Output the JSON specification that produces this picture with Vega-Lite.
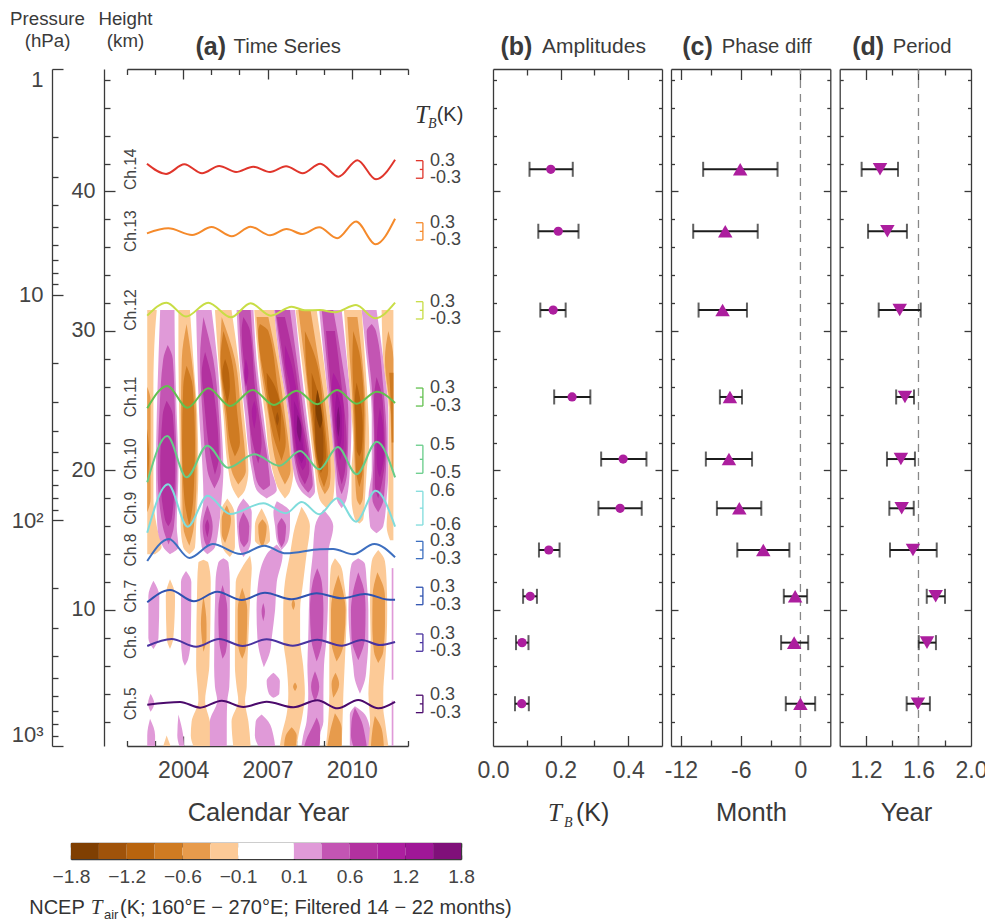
{"$schema":"https://vega.github.io/schema/vega-lite/v6.json","width":985,"height":921,"padding":0,"autosize":{"type":"none"},"background":"white",
"config":{"font":"Liberation Sans","view":{"stroke":null},"axis":{"grid":false,"domainColor":"#3a3a3a","tickColor":"#3a3a3a","domainWidth":1.3,"tickWidth":1.3,"labelColor":"#444","titleColor":"#3a3a3a","labelFontSize":23,"labelFlush":false,"labelOverlap":false,"labelBound":false,"titleFontWeight":"normal","titleAnchor":null,"title":null}},
"resolve":{"scale":{"x":"independent","y":"independent"},"axis":{"x":"independent","y":"independent"}},
"datasets":{
"pressure":[{"p":1},{"p":10},{"p":100},{"p":1000}],
"heat":[
{"g":1,"v":-1,"k":31.5,"a":2002.72,"b":2003.06},{"g":1,"v":-1,"k":30,"a":2002.72,"b":2003.00},{"g":1,"v":-1,"k":26,"a":2002.72,"b":2002.94},{"g":1,"v":-1,"k":18,"a":2002.72,"b":2002.94},{"g":1,"v":-1,"k":16,"a":2002.72,"b":2003.06},{"g":1,"v":-1,"k":14.5,"a":2002.72,"b":2003.23},{"g":1,"v":-1,"k":14,"a":2002.72,"b":2003.00},
{"g":2,"v":-2,"k":26,"a":2002.72,"b":2002.72},{"g":2,"v":-2,"k":25,"a":2002.72,"b":2002.84},{"g":2,"v":-2,"k":18,"a":2002.72,"b":2002.84},{"g":2,"v":-2,"k":17,"a":2002.72,"b":2002.72},
{"g":3,"v":-3,"k":23,"a":2002.72,"b":2002.72},{"g":3,"v":-3,"k":21,"a":2002.72,"b":2002.79},{"g":3,"v":-3,"k":19,"a":2002.72,"b":2002.72},
{"g":4,"v":1,"k":31.5,"a":2003.18,"b":2003.69},{"g":4,"v":1,"k":28,"a":2003.12,"b":2003.71},{"g":4,"v":1,"k":24,"a":2003.06,"b":2003.77},{"g":4,"v":1,"k":20,"a":2003.03,"b":2003.83},{"g":4,"v":1,"k":16,"a":2003.08,"b":2003.77},{"g":4,"v":1,"k":14.5,"a":2003.29,"b":2003.83},{"g":4,"v":1,"k":14,"a":2003.53,"b":2003.53},
{"g":5,"v":2,"k":29,"a":2003.45,"b":2003.45},{"g":5,"v":2,"k":28,"a":2003.29,"b":2003.63},{"g":5,"v":2,"k":24,"a":2003.15,"b":2003.71},{"g":5,"v":2,"k":20,"a":2003.09,"b":2003.77},{"g":5,"v":2,"k":16,"a":2003.27,"b":2003.67},{"g":5,"v":2,"k":14.7,"a":2003.48,"b":2003.48},
{"g":6,"v":3,"k":25,"a":2003.41,"b":2003.41},{"g":6,"v":3,"k":24,"a":2003.27,"b":2003.63},{"g":6,"v":3,"k":20,"a":2003.18,"b":2003.71},{"g":6,"v":3,"k":16.5,"a":2003.35,"b":2003.59},{"g":6,"v":3,"k":16,"a":2003.47,"b":2003.47},
{"g":7,"v":-1,"k":31.5,"a":2003.83,"b":2004.24},{"g":7,"v":-1,"k":28,"a":2003.83,"b":2004.36},{"g":7,"v":-1,"k":24,"a":2003.86,"b":2004.50},{"g":7,"v":-1,"k":20,"a":2003.89,"b":2004.54},{"g":7,"v":-1,"k":16,"a":2003.91,"b":2004.46},{"g":7,"v":-1,"k":14.5,"a":2004.00,"b":2004.42},{"g":7,"v":-1,"k":14,"a":2004.22,"b":2004.22},
{"g":8,"v":-2,"k":30.5,"a":2004.12,"b":2004.12},{"g":8,"v":-2,"k":28,"a":2003.95,"b":2004.30},{"g":8,"v":-2,"k":24,"a":2003.92,"b":2004.46},{"g":8,"v":-2,"k":20,"a":2003.95,"b":2004.48},{"g":8,"v":-2,"k":16,"a":2004.00,"b":2004.38},{"g":8,"v":-2,"k":14.6,"a":2004.22,"b":2004.22},
{"g":9,"v":-3,"k":27.5,"a":2004.12,"b":2004.12},{"g":9,"v":-3,"k":26,"a":2004.00,"b":2004.34},{"g":9,"v":-3,"k":22,"a":2003.96,"b":2004.42},{"g":9,"v":-3,"k":18,"a":2004.04,"b":2004.36},{"g":9,"v":-3,"k":16,"a":2004.22,"b":2004.22},
{"g":10,"v":1,"k":31.5,"a":2004.46,"b":2005.01},{"g":10,"v":1,"k":28,"a":2004.50,"b":2005.21},{"g":10,"v":1,"k":24,"a":2004.57,"b":2005.34},{"g":10,"v":1,"k":20,"a":2004.69,"b":2005.43},{"g":10,"v":1,"k":18,"a":2004.72,"b":2005.37},{"g":10,"v":1,"k":16,"a":2004.60,"b":2005.27},{"g":10,"v":1,"k":14.5,"a":2004.66,"b":2005.13},{"g":10,"v":1,"k":14,"a":2004.86,"b":2004.86},
{"g":11,"v":2,"k":31,"a":2004.72,"b":2004.72},{"g":11,"v":2,"k":28,"a":2004.60,"b":2005.07},{"g":11,"v":2,"k":24,"a":2004.69,"b":2005.27},{"g":11,"v":2,"k":20,"a":2004.86,"b":2005.34},{"g":11,"v":2,"k":18.7,"a":2005.11,"b":2005.11},
{"g":12,"v":3,"k":28.5,"a":2004.78,"b":2004.78},{"g":12,"v":3,"k":27,"a":2004.66,"b":2004.98},{"g":12,"v":3,"k":25,"a":2004.74,"b":2005.13},{"g":12,"v":3,"k":21,"a":2004.98,"b":2005.27},{"g":12,"v":3,"k":19.7,"a":2005.13,"b":2005.13},
{"g":13,"v":2,"k":17.5,"a":2004.86,"b":2004.86},{"g":13,"v":2,"k":16,"a":2004.69,"b":2005.05},{"g":13,"v":2,"k":15,"a":2004.75,"b":2004.98},{"g":13,"v":2,"k":14.5,"a":2004.86,"b":2004.86},
{"g":14,"v":3,"k":16.5,"a":2004.86,"b":2004.86},{"g":14,"v":3,"k":16,"a":2004.78,"b":2004.93},{"g":14,"v":3,"k":15.2,"a":2004.86,"b":2004.86},
{"g":15,"v":-1,"k":31.5,"a":2005.13,"b":2005.72},{"g":15,"v":-1,"k":28,"a":2005.25,"b":2005.96},{"g":15,"v":-1,"k":24,"a":2005.43,"b":2006.16},{"g":15,"v":-1,"k":20,"a":2005.61,"b":2006.32},{"g":15,"v":-1,"k":18.6,"a":2005.78,"b":2006.20},{"g":15,"v":-1,"k":18,"a":2005.96,"b":2005.96},
{"g":16,"v":-2,"k":31,"a":2005.37,"b":2005.37},{"g":16,"v":-2,"k":28,"a":2005.31,"b":2005.84},{"g":16,"v":-2,"k":24,"a":2005.49,"b":2006.06},{"g":16,"v":-2,"k":20,"a":2005.72,"b":2006.23},{"g":16,"v":-2,"k":19,"a":2005.96,"b":2005.96},
{"g":17,"v":-3,"k":30,"a":2005.43,"b":2005.43},{"g":17,"v":-3,"k":28,"a":2005.33,"b":2005.72},{"g":17,"v":-3,"k":24,"a":2005.55,"b":2005.93},{"g":17,"v":-3,"k":22,"a":2005.67,"b":2006.02},{"g":17,"v":-3,"k":21,"a":2005.84,"b":2005.84},
{"g":18,"v":-4,"k":28,"a":2005.49,"b":2005.49},{"g":18,"v":-4,"k":27,"a":2005.39,"b":2005.63},{"g":18,"v":-4,"k":26,"a":2005.45,"b":2005.66},{"g":18,"v":-4,"k":24.8,"a":2005.57,"b":2005.57},
{"g":19,"v":-1,"k":18,"a":2005.57,"b":2005.57},{"g":19,"v":-1,"k":17,"a":2005.33,"b":2005.82},{"g":19,"v":-1,"k":16,"a":2005.31,"b":2005.84},{"g":19,"v":-1,"k":14.5,"a":2005.40,"b":2005.84},{"g":19,"v":-1,"k":13.8,"a":2005.66,"b":2005.66},
{"g":20,"v":-2,"k":17.5,"a":2005.55,"b":2005.55},{"g":20,"v":-2,"k":16.5,"a":2005.37,"b":2005.70},{"g":20,"v":-2,"k":15.5,"a":2005.37,"b":2005.61},{"g":20,"v":-2,"k":14.8,"a":2005.49,"b":2005.49},
{"g":21,"v":1,"k":31.5,"a":2005.90,"b":2006.50},{"g":21,"v":1,"k":28,"a":2006.00,"b":2006.61},{"g":21,"v":1,"k":24,"a":2006.20,"b":2006.85},{"g":21,"v":1,"k":20,"a":2006.44,"b":2007.15},{"g":21,"v":1,"k":18.6,"a":2006.61,"b":2007.33},{"g":21,"v":1,"k":18,"a":2006.97,"b":2006.97},
{"g":22,"v":2,"k":31.5,"a":2005.98,"b":2006.40},{"g":22,"v":2,"k":28,"a":2006.08,"b":2006.53},{"g":22,"v":2,"k":24,"a":2006.32,"b":2006.76},{"g":22,"v":2,"k":20,"a":2006.53,"b":2007.05},{"g":22,"v":2,"k":19,"a":2006.67,"b":2007.09},{"g":22,"v":2,"k":18.6,"a":2006.85,"b":2006.85},
{"g":23,"v":3,"k":31,"a":2006.14,"b":2006.14},{"g":23,"v":3,"k":30,"a":2006.08,"b":2006.38},{"g":23,"v":3,"k":26,"a":2006.26,"b":2006.55},{"g":23,"v":3,"k":22,"a":2006.47,"b":2006.79},{"g":23,"v":3,"k":20.5,"a":2006.67,"b":2006.67},
{"g":24,"v":4,"k":28,"a":2006.23,"b":2006.23},{"g":24,"v":4,"k":27,"a":2006.17,"b":2006.32},{"g":24,"v":4,"k":26,"a":2006.23,"b":2006.23},
{"g":25,"v":4,"k":25,"a":2006.53,"b":2006.53},{"g":25,"v":4,"k":24.2,"a":2006.44,"b":2006.61},{"g":25,"v":4,"k":23,"a":2006.53,"b":2006.53},
{"g":26,"v":1,"k":18,"a":2006.14,"b":2006.14},{"g":26,"v":1,"k":17,"a":2005.90,"b":2006.44},{"g":26,"v":1,"k":15,"a":2005.96,"b":2006.41},{"g":26,"v":1,"k":14.3,"a":2006.02,"b":2006.32},{"g":26,"v":1,"k":13.8,"a":2006.14,"b":2006.14},
{"g":27,"v":2,"k":17,"a":2006.14,"b":2006.14},{"g":27,"v":2,"k":16,"a":2005.98,"b":2006.35},{"g":27,"v":2,"k":15,"a":2006.02,"b":2006.32},{"g":27,"v":2,"k":14.5,"a":2006.16,"b":2006.16},
{"g":28,"v":-1,"k":31.5,"a":2006.53,"b":2007.23},{"g":28,"v":-1,"k":28,"a":2006.67,"b":2007.42},{"g":28,"v":-1,"k":24,"a":2006.91,"b":2007.74},{"g":28,"v":-1,"k":20,"a":2007.18,"b":2007.92},{"g":28,"v":-1,"k":18.5,"a":2007.44,"b":2007.80},{"g":28,"v":-1,"k":18,"a":2007.62,"b":2007.62},
{"g":29,"v":-2,"k":31,"a":2006.61,"b":2007.03},{"g":29,"v":-2,"k":28,"a":2006.73,"b":2007.33},{"g":29,"v":-2,"k":24,"a":2007.03,"b":2007.62},{"g":29,"v":-2,"k":20,"a":2007.39,"b":2007.82},{"g":29,"v":-2,"k":19,"a":2007.62,"b":2007.62},
{"g":30,"v":-3,"k":30.5,"a":2006.73,"b":2006.73},{"g":30,"v":-3,"k":30,"a":2006.67,"b":2007.03},{"g":30,"v":-3,"k":26,"a":2006.93,"b":2007.36},{"g":30,"v":-3,"k":22,"a":2007.27,"b":2007.65},{"g":30,"v":-3,"k":20.7,"a":2007.50,"b":2007.50},
{"g":31,"v":-4,"k":27,"a":2006.97,"b":2006.97},{"g":31,"v":-4,"k":26,"a":2006.99,"b":2007.27},{"g":31,"v":-4,"k":24,"a":2007.21,"b":2007.48},{"g":31,"v":-4,"k":22,"a":2007.44,"b":2007.44},
{"g":32,"v":-5,"k":24.2,"a":2007.35,"b":2007.35},{"g":32,"v":-5,"k":23.7,"a":2007.29,"b":2007.41},{"g":32,"v":-5,"k":23.2,"a":2007.35,"b":2007.35},
{"g":33,"v":-1,"k":17.3,"a":2006.79,"b":2006.79},{"g":33,"v":-1,"k":16,"a":2006.55,"b":2007.05},{"g":33,"v":-1,"k":15,"a":2006.55,"b":2007.09},{"g":33,"v":-1,"k":14.5,"a":2006.83,"b":2006.83},
{"g":34,"v":-2,"k":16.5,"a":2006.82,"b":2006.82},{"g":34,"v":-2,"k":16,"a":2006.67,"b":2006.97},{"g":34,"v":-2,"k":15,"a":2006.71,"b":2006.91},{"g":34,"v":-2,"k":14.5,"a":2006.82,"b":2006.82},
{"g":35,"v":1,"k":31.5,"a":2007.23,"b":2007.98},{"g":35,"v":1,"k":28,"a":2007.42,"b":2008.16},{"g":35,"v":1,"k":24,"a":2007.74,"b":2008.39},{"g":35,"v":1,"k":20,"a":2007.92,"b":2008.63},{"g":35,"v":1,"k":18.5,"a":2008.21,"b":2008.69},{"g":35,"v":1,"k":18,"a":2008.51,"b":2008.51},
{"g":36,"v":2,"k":31.5,"a":2007.27,"b":2007.80},{"g":36,"v":2,"k":28,"a":2007.50,"b":2008.04},{"g":36,"v":2,"k":24,"a":2007.80,"b":2008.30},{"g":36,"v":2,"k":20,"a":2008.04,"b":2008.57},{"g":36,"v":2,"k":19,"a":2008.21,"b":2008.61},{"g":36,"v":2,"k":18.4,"a":2008.45,"b":2008.45},
{"g":37,"v":3,"k":31,"a":2007.33,"b":2007.62},{"g":37,"v":3,"k":28,"a":2007.56,"b":2007.94},{"g":37,"v":3,"k":24,"a":2007.82,"b":2008.21},{"g":37,"v":3,"k":20,"a":2008.10,"b":2008.49},{"g":37,"v":3,"k":19,"a":2008.33,"b":2008.33},
{"g":38,"v":4,"k":29,"a":2007.62,"b":2007.62},{"g":38,"v":4,"k":28,"a":2007.62,"b":2007.80},{"g":38,"v":4,"k":26,"a":2007.80,"b":2008.01},{"g":38,"v":4,"k":24,"a":2007.86,"b":2008.16},{"g":38,"v":4,"k":22,"a":2007.98,"b":2008.31},{"g":38,"v":4,"k":20.5,"a":2008.13,"b":2008.37},{"g":38,"v":4,"k":20,"a":2008.25,"b":2008.25},
{"g":39,"v":5,"k":25,"a":2007.94,"b":2007.94},{"g":39,"v":5,"k":24,"a":2007.94,"b":2008.13},{"g":39,"v":5,"k":22,"a":2008.01,"b":2008.25},{"g":39,"v":5,"k":21,"a":2008.10,"b":2008.30},{"g":39,"v":5,"k":20.5,"a":2008.21,"b":2008.21},
{"g":40,"v":6,"k":24,"a":2008.07,"b":2008.07},{"g":40,"v":6,"k":23,"a":2008.04,"b":2008.21},{"g":40,"v":6,"k":22,"a":2008.16,"b":2008.16},
{"g":41,"v":1,"k":17.8,"a":2007.33,"b":2007.33},{"g":41,"v":1,"k":17,"a":2007.21,"b":2007.80},{"g":41,"v":1,"k":16,"a":2007.27,"b":2007.80},{"g":41,"v":1,"k":15,"a":2007.33,"b":2007.74},{"g":41,"v":1,"k":14.3,"a":2007.50,"b":2007.50},
{"g":42,"v":2,"k":16.6,"a":2007.50,"b":2007.50},{"g":42,"v":2,"k":16,"a":2007.35,"b":2007.66},{"g":42,"v":2,"k":15,"a":2007.39,"b":2007.62},{"g":42,"v":2,"k":14.5,"a":2007.50,"b":2007.50},
{"g":43,"v":-1,"k":31.5,"a":2008.00,"b":2008.75},{"g":43,"v":-1,"k":28,"a":2008.21,"b":2008.99},{"g":43,"v":-1,"k":24,"a":2008.45,"b":2009.22},{"g":43,"v":-1,"k":20,"a":2008.69,"b":2009.40},{"g":43,"v":-1,"k":18,"a":2008.84,"b":2009.34},{"g":43,"v":-1,"k":17.3,"a":2009.10,"b":2009.10},
{"g":44,"v":-2,"k":31.5,"a":2008.10,"b":2008.53},{"g":44,"v":-2,"k":28,"a":2008.31,"b":2008.81},{"g":44,"v":-2,"k":24,"a":2008.53,"b":2009.10},{"g":44,"v":-2,"k":20,"a":2008.77,"b":2009.25},{"g":44,"v":-2,"k":19,"a":2008.87,"b":2009.22},{"g":44,"v":-2,"k":18.3,"a":2009.04,"b":2009.04},
{"g":45,"v":-3,"k":30,"a":2008.33,"b":2008.33},{"g":45,"v":-3,"k":28,"a":2008.36,"b":2008.72},{"g":45,"v":-3,"k":24,"a":2008.57,"b":2009.01},{"g":45,"v":-3,"k":20,"a":2008.81,"b":2009.16},{"g":45,"v":-3,"k":18.8,"a":2009.01,"b":2009.01},
{"g":46,"v":-4,"k":27,"a":2008.57,"b":2008.57},{"g":46,"v":-4,"k":25,"a":2008.59,"b":2008.87},{"g":46,"v":-4,"k":23,"a":2008.67,"b":2009.01},{"g":46,"v":-4,"k":21,"a":2008.75,"b":2009.08},{"g":46,"v":-4,"k":19.8,"a":2008.90,"b":2008.90},
{"g":47,"v":-5,"k":25.5,"a":2008.75,"b":2008.75},{"g":47,"v":-5,"k":24,"a":2008.69,"b":2008.90},{"g":47,"v":-5,"k":22,"a":2008.71,"b":2008.99},{"g":47,"v":-5,"k":21,"a":2008.77,"b":2008.99},{"g":47,"v":-5,"k":20,"a":2008.87,"b":2008.87},
{"g":48,"v":-6,"k":25.8,"a":2008.78,"b":2008.78},{"g":48,"v":-6,"k":24.5,"a":2008.71,"b":2008.90},{"g":48,"v":-6,"k":23.6,"a":2008.77,"b":2008.95},{"g":48,"v":-6,"k":23,"a":2008.87,"b":2008.87},
{"g":49,"v":1,"k":31.5,"a":2008.84,"b":2009.64},{"g":49,"v":1,"k":28,"a":2009.01,"b":2009.82},{"g":49,"v":1,"k":24,"a":2009.22,"b":2009.99},{"g":49,"v":1,"k":20,"a":2009.40,"b":2009.93},{"g":49,"v":1,"k":18,"a":2009.46,"b":2009.82},{"g":49,"v":1,"k":17.3,"a":2009.64,"b":2009.64},
{"g":50,"v":2,"k":31.5,"a":2008.93,"b":2009.34},{"g":50,"v":2,"k":28,"a":2009.10,"b":2009.64},{"g":50,"v":2,"k":24,"a":2009.28,"b":2009.88},{"g":50,"v":2,"k":20,"a":2009.46,"b":2009.84},{"g":50,"v":2,"k":19,"a":2009.52,"b":2009.76},{"g":50,"v":2,"k":18.3,"a":2009.64,"b":2009.64},
{"g":51,"v":3,"k":30,"a":2009.08,"b":2009.40},{"g":51,"v":3,"k":26,"a":2009.25,"b":2009.64},{"g":51,"v":3,"k":22,"a":2009.40,"b":2009.82},{"g":51,"v":3,"k":20,"a":2009.52,"b":2009.76},{"g":51,"v":3,"k":19,"a":2009.64,"b":2009.64},
{"g":52,"v":4,"k":27,"a":2009.34,"b":2009.34},{"g":52,"v":4,"k":26,"a":2009.28,"b":2009.58},{"g":52,"v":4,"k":24,"a":2009.37,"b":2009.72},{"g":52,"v":4,"k":22,"a":2009.46,"b":2009.72},{"g":52,"v":4,"k":20.7,"a":2009.58,"b":2009.58},
{"g":53,"v":5,"k":25.7,"a":2009.46,"b":2009.46},{"g":53,"v":5,"k":24,"a":2009.40,"b":2009.64},{"g":53,"v":5,"k":22.5,"a":2009.46,"b":2009.64},{"g":53,"v":5,"k":21.5,"a":2009.55,"b":2009.55},
{"g":54,"v":6,"k":24.6,"a":2009.52,"b":2009.52},{"g":54,"v":6,"k":23.5,"a":2009.46,"b":2009.58},{"g":54,"v":6,"k":22.4,"a":2009.52,"b":2009.52},
{"g":55,"v":-1,"k":31.5,"a":2009.72,"b":2010.35},{"g":55,"v":-1,"k":28,"a":2009.84,"b":2010.47},{"g":55,"v":-1,"k":24,"a":2009.99,"b":2010.59},{"g":55,"v":-1,"k":22,"a":2010.05,"b":2010.62},{"g":55,"v":-1,"k":20,"a":2009.99,"b":2010.53},{"g":55,"v":-1,"k":18,"a":2009.99,"b":2010.47},{"g":55,"v":-1,"k":16.5,"a":2010.11,"b":2010.41},{"g":55,"v":-1,"k":16.2,"a":2010.27,"b":2010.27},
{"g":56,"v":-2,"k":31,"a":2009.84,"b":2010.20},{"g":56,"v":-2,"k":28,"a":2009.93,"b":2010.37},{"g":56,"v":-2,"k":24,"a":2010.05,"b":2010.49},{"g":56,"v":-2,"k":20,"a":2010.11,"b":2010.44},{"g":56,"v":-2,"k":18,"a":2010.17,"b":2010.39},{"g":56,"v":-2,"k":17.5,"a":2010.29,"b":2010.29},
{"g":57,"v":-3,"k":30,"a":2010.05,"b":2010.05},{"g":57,"v":-3,"k":28,"a":2010.02,"b":2010.31},{"g":57,"v":-3,"k":24,"a":2010.09,"b":2010.44},{"g":57,"v":-3,"k":20,"a":2010.15,"b":2010.39},{"g":57,"v":-3,"k":18.8,"a":2010.27,"b":2010.27},
{"g":58,"v":-4,"k":26.3,"a":2010.17,"b":2010.17},{"g":58,"v":-4,"k":25,"a":2010.11,"b":2010.31},{"g":58,"v":-4,"k":23,"a":2010.15,"b":2010.39},{"g":58,"v":-4,"k":21.5,"a":2010.17,"b":2010.35},{"g":58,"v":-4,"k":21,"a":2010.27,"b":2010.27},
{"g":59,"v":1,"k":31.5,"a":2010.35,"b":2010.88},{"g":59,"v":1,"k":28,"a":2010.53,"b":2011.12},{"g":59,"v":1,"k":24,"a":2010.71,"b":2011.30},{"g":59,"v":1,"k":20,"a":2010.71,"b":2011.30},{"g":59,"v":1,"k":18,"a":2010.59,"b":2011.24},{"g":59,"v":1,"k":16,"a":2010.65,"b":2011.12},{"g":59,"v":1,"k":15.5,"a":2010.88,"b":2010.88},
{"g":60,"v":2,"k":30.5,"a":2010.71,"b":2010.71},{"g":60,"v":2,"k":30,"a":2010.53,"b":2010.86},{"g":60,"v":2,"k":26,"a":2010.71,"b":2011.12},{"g":60,"v":2,"k":22,"a":2010.79,"b":2011.24},{"g":60,"v":2,"k":18,"a":2010.73,"b":2011.14},{"g":60,"v":2,"k":17,"a":2010.94,"b":2010.94},
{"g":61,"v":3,"k":26.7,"a":2010.88,"b":2010.88},{"g":61,"v":3,"k":25,"a":2010.79,"b":2011.10},{"g":61,"v":3,"k":21,"a":2010.82,"b":2011.18},{"g":61,"v":3,"k":19,"a":2010.82,"b":2011.06},{"g":61,"v":3,"k":18,"a":2010.94,"b":2010.94},
{"g":62,"v":4,"k":24.5,"a":2011.00,"b":2011.00},{"g":62,"v":4,"k":23,"a":2010.91,"b":2011.12},{"g":62,"v":4,"k":21,"a":2010.88,"b":2011.14},{"g":62,"v":4,"k":20,"a":2010.92,"b":2011.06},{"g":62,"v":4,"k":19.5,"a":2011.00,"b":2011.00},
{"g":63,"v":-1,"k":31.5,"a":2011.06,"b":2011.48},{"g":63,"v":-1,"k":28,"a":2011.12,"b":2011.48},{"g":63,"v":-1,"k":24,"a":2011.32,"b":2011.48},{"g":63,"v":-1,"k":18,"a":2011.30,"b":2011.48},{"g":63,"v":-1,"k":16,"a":2011.24,"b":2011.48},{"g":63,"v":-1,"k":15,"a":2011.36,"b":2011.48},
{"g":64,"v":-2,"k":30,"a":2011.30,"b":2011.30},{"g":64,"v":-2,"k":28,"a":2011.18,"b":2011.48},{"g":64,"v":-2,"k":24,"a":2011.38,"b":2011.48},{"g":64,"v":-2,"k":20,"a":2011.42,"b":2011.48},
{"g":65,"v":-3,"k":27,"a":2011.33,"b":2011.48},{"g":65,"v":-3,"k":26,"a":2011.36,"b":2011.48},{"g":65,"v":-3,"k":22,"a":2011.42,"b":2011.48},
{"g":66,"v":1,"k":12.1,"a":2002.94,"b":2002.94},{"g":66,"v":1,"k":11,"a":2002.76,"b":2003.15},{"g":66,"v":1,"k":8,"a":2002.76,"b":2003.12},{"g":66,"v":1,"k":7.2,"a":2002.94,"b":2002.94},
{"g":67,"v":-1,"k":12.2,"a":2003.53,"b":2003.53},{"g":67,"v":-1,"k":11,"a":2003.38,"b":2003.71},{"g":67,"v":-1,"k":8,"a":2003.41,"b":2003.65},{"g":67,"v":-1,"k":7.2,"a":2003.53,"b":2003.53},
{"g":68,"v":1,"k":12.8,"a":2004.10,"b":2004.10},{"g":68,"v":1,"k":12,"a":2003.92,"b":2004.29},{"g":68,"v":1,"k":8,"a":2003.92,"b":2004.27},{"g":68,"v":1,"k":6.5,"a":2003.97,"b":2004.18},{"g":68,"v":1,"k":6,"a":2004.06,"b":2004.06},
{"g":69,"v":-1,"k":13.6,"a":2004.72,"b":2004.72},{"g":69,"v":-1,"k":13.4,"a":2004.54,"b":2004.89},{"g":69,"v":-1,"k":12,"a":2004.50,"b":2004.98},{"g":69,"v":-1,"k":6,"a":2004.46,"b":2004.93},{"g":69,"v":-1,"k":4.8,"a":2004.50,"b":2004.86},{"g":69,"v":-1,"k":3.5,"a":2004.54,"b":2004.78},{"g":69,"v":-1,"k":2,"a":2004.30,"b":2004.95},{"g":69,"v":-1,"k":1,"a":2004.27,"b":2005.01},{"g":69,"v":-1,"k":0.25,"a":2004.36,"b":2004.95},
{"g":70,"v":-2,"k":11,"a":2004.72,"b":2004.72},{"g":70,"v":-2,"k":9,"a":2004.63,"b":2004.83},{"g":70,"v":-2,"k":8,"a":2004.66,"b":2004.83},{"g":70,"v":-2,"k":7,"a":2004.72,"b":2004.72},
{"g":71,"v":1,"k":13.7,"a":2005.43,"b":2005.43},{"g":71,"v":1,"k":13.4,"a":2005.25,"b":2005.61},{"g":71,"v":1,"k":12,"a":2005.15,"b":2005.66},{"g":71,"v":1,"k":6,"a":2005.10,"b":2005.66},{"g":71,"v":1,"k":4.5,"a":2005.13,"b":2005.64},{"g":71,"v":1,"k":3.5,"a":2005.21,"b":2005.57},{"g":71,"v":1,"k":2,"a":2004.95,"b":2005.55},{"g":71,"v":1,"k":0.25,"a":2004.95,"b":2005.55},
{"g":72,"v":2,"k":11.8,"a":2005.40,"b":2005.40},{"g":72,"v":2,"k":10,"a":2005.25,"b":2005.57},{"g":72,"v":2,"k":8,"a":2005.27,"b":2005.57},{"g":72,"v":2,"k":7,"a":2005.34,"b":2005.52},{"g":72,"v":2,"k":6.5,"a":2005.40,"b":2005.40},
{"g":73,"v":-1,"k":13.9,"a":2006.38,"b":2006.38},{"g":73,"v":-1,"k":13,"a":2006.08,"b":2006.44},{"g":73,"v":-1,"k":12,"a":2005.87,"b":2006.41},{"g":73,"v":-1,"k":8,"a":2005.84,"b":2006.32},{"g":73,"v":-1,"k":6,"a":2005.84,"b":2006.28},{"g":73,"v":-1,"k":4.5,"a":2005.90,"b":2006.26},{"g":73,"v":-1,"k":3.5,"a":2005.96,"b":2006.20},{"g":73,"v":-1,"k":2,"a":2005.72,"b":2006.32},{"g":73,"v":-1,"k":0.25,"a":2005.78,"b":2006.40},
{"g":74,"v":-2,"k":11.6,"a":2006.10,"b":2006.10},{"g":74,"v":-2,"k":10,"a":2005.94,"b":2006.28},{"g":74,"v":-2,"k":8,"a":2005.94,"b":2006.26},{"g":74,"v":-2,"k":7,"a":2006.00,"b":2006.20},{"g":74,"v":-2,"k":6.5,"a":2006.10,"b":2006.10},
{"g":75,"v":1,"k":14.7,"a":2007.33,"b":2007.33},{"g":75,"v":1,"k":14,"a":2006.97,"b":2007.54},{"g":75,"v":1,"k":12,"a":2006.67,"b":2007.33},{"g":75,"v":1,"k":10,"a":2006.61,"b":2007.27},{"g":75,"v":1,"k":8,"a":2006.64,"b":2007.15},{"g":75,"v":1,"k":7,"a":2006.71,"b":2007.09},{"g":75,"v":1,"k":5.9,"a":2006.87,"b":2006.87},
{"g":76,"v":2,"k":10.5,"a":2006.85,"b":2006.85},{"g":76,"v":2,"k":9.9,"a":2006.79,"b":2006.91},{"g":76,"v":2,"k":9.2,"a":2006.85,"b":2006.85},
{"g":77,"v":1,"k":5.5,"a":2007.21,"b":2007.21},{"g":77,"v":1,"k":4.9,"a":2006.97,"b":2007.44},{"g":77,"v":1,"k":4,"a":2007.05,"b":2007.42},{"g":77,"v":1,"k":3.7,"a":2007.21,"b":2007.21},
{"g":78,"v":1,"k":2.5,"a":2006.79,"b":2006.79},{"g":78,"v":1,"k":2,"a":2006.58,"b":2007.03},{"g":78,"v":1,"k":1,"a":2006.55,"b":2007.21},{"g":78,"v":1,"k":0.25,"a":2006.67,"b":2007.27},
{"g":79,"v":-1,"k":17.4,"a":2008.21,"b":2008.21},{"g":79,"v":-1,"k":16,"a":2007.98,"b":2008.51},{"g":79,"v":-1,"k":14,"a":2007.80,"b":2008.39},{"g":79,"v":-1,"k":12,"a":2007.62,"b":2008.27},{"g":79,"v":-1,"k":10,"a":2007.56,"b":2008.16},{"g":79,"v":-1,"k":8,"a":2007.56,"b":2008.16},{"g":79,"v":-1,"k":6,"a":2007.68,"b":2008.27},{"g":79,"v":-1,"k":4,"a":2007.74,"b":2008.33},{"g":79,"v":-1,"k":2.5,"a":2007.68,"b":2008.25},{"g":79,"v":-1,"k":1,"a":2007.50,"b":2008.10},{"g":79,"v":-1,"k":0.25,"a":2007.44,"b":2008.04},
{"g":80,"v":-2,"k":4.8,"a":2007.98,"b":2007.98},{"g":80,"v":-2,"k":4.5,"a":2007.91,"b":2008.05},{"g":80,"v":-2,"k":4.2,"a":2007.98,"b":2007.98},
{"g":81,"v":-2,"k":10.8,"a":2007.92,"b":2007.92},{"g":81,"v":-2,"k":10.4,"a":2007.86,"b":2007.98},{"g":81,"v":-2,"k":10,"a":2007.92,"b":2007.92},
{"g":82,"v":-2,"k":1.6,"a":2007.86,"b":2007.86},{"g":82,"v":-2,"k":1,"a":2007.65,"b":2008.04},{"g":82,"v":-2,"k":0.25,"a":2007.59,"b":2008.01},
{"g":83,"v":1,"k":17.2,"a":2008.99,"b":2008.99},{"g":83,"v":1,"k":16,"a":2008.69,"b":2009.34},{"g":83,"v":1,"k":14,"a":2008.61,"b":2009.16},{"g":83,"v":1,"k":12,"a":2008.51,"b":2009.16},{"g":83,"v":1,"k":8,"a":2008.45,"b":2009.10},{"g":83,"v":1,"k":6,"a":2008.42,"b":2009.01},{"g":83,"v":1,"k":4,"a":2008.45,"b":2008.99},{"g":83,"v":1,"k":2,"a":2008.39,"b":2008.99},{"g":83,"v":1,"k":1,"a":2008.27,"b":2008.87},{"g":83,"v":1,"k":0.25,"a":2008.21,"b":2008.87},
{"g":84,"v":2,"k":13,"a":2008.77,"b":2008.77},{"g":84,"v":2,"k":12,"a":2008.61,"b":2008.93},{"g":84,"v":2,"k":10,"a":2008.51,"b":2008.99},{"g":84,"v":2,"k":8,"a":2008.55,"b":2008.96},{"g":84,"v":2,"k":7,"a":2008.65,"b":2008.87},{"g":84,"v":2,"k":6.3,"a":2008.75,"b":2008.75},
{"g":85,"v":2,"k":5.6,"a":2008.69,"b":2008.69},{"g":85,"v":2,"k":4.5,"a":2008.55,"b":2008.84},{"g":85,"v":2,"k":3.4,"a":2008.69,"b":2008.69},
{"g":86,"v":2,"k":2.3,"a":2008.75,"b":2008.75},{"g":86,"v":2,"k":1.5,"a":2008.57,"b":2008.87},{"g":86,"v":2,"k":0.75,"a":2008.39,"b":2008.87},{"g":86,"v":2,"k":0.25,"a":2008.31,"b":2008.84},
{"g":87,"v":-1,"k":13.7,"a":2009.40,"b":2009.40},{"g":87,"v":-1,"k":13,"a":2009.25,"b":2009.64},{"g":87,"v":-1,"k":12,"a":2009.22,"b":2009.72},{"g":87,"v":-1,"k":10,"a":2009.20,"b":2009.82},{"g":87,"v":-1,"k":8,"a":2009.20,"b":2009.79},{"g":87,"v":-1,"k":4,"a":2009.20,"b":2009.70},{"g":87,"v":-1,"k":2,"a":2009.16,"b":2009.67},{"g":87,"v":-1,"k":0.25,"a":2009.08,"b":2009.64},
{"g":88,"v":-2,"k":12.5,"a":2009.52,"b":2009.52},{"g":88,"v":-2,"k":11,"a":2009.31,"b":2009.72},{"g":88,"v":-2,"k":10,"a":2009.26,"b":2009.78},{"g":88,"v":-2,"k":8,"a":2009.26,"b":2009.73},{"g":88,"v":-2,"k":7,"a":2009.34,"b":2009.64},{"g":88,"v":-2,"k":6.3,"a":2009.46,"b":2009.46},
{"g":89,"v":-2,"k":5.5,"a":2009.42,"b":2009.42},{"g":89,"v":-2,"k":4.7,"a":2009.28,"b":2009.55},{"g":89,"v":-2,"k":3.7,"a":2009.34,"b":2009.34},
{"g":90,"v":-2,"k":2.6,"a":2009.40,"b":2009.40},{"g":90,"v":-2,"k":1.5,"a":2009.25,"b":2009.64},{"g":90,"v":-2,"k":0.25,"a":2009.13,"b":2009.64},
{"g":91,"v":1,"k":13.7,"a":2010.23,"b":2010.23},{"g":91,"v":1,"k":13.3,"a":2009.99,"b":2010.47},{"g":91,"v":1,"k":12,"a":2009.91,"b":2010.53},{"g":91,"v":1,"k":10,"a":2009.88,"b":2010.59},{"g":91,"v":1,"k":8,"a":2009.93,"b":2010.59},{"g":91,"v":1,"k":6,"a":2010.05,"b":2010.53},{"g":91,"v":1,"k":5,"a":2010.11,"b":2010.47},{"g":91,"v":1,"k":4,"a":2010.29,"b":2010.29},
{"g":92,"v":1,"k":3.1,"a":2010.11,"b":2010.11},{"g":92,"v":1,"k":2.5,"a":2009.93,"b":2010.47},{"g":92,"v":1,"k":1,"a":2009.93,"b":2010.71},{"g":92,"v":1,"k":0.25,"a":2009.93,"b":2010.82},
{"g":93,"v":2,"k":12.7,"a":2010.23,"b":2010.23},{"g":93,"v":2,"k":11,"a":2010.02,"b":2010.47},{"g":93,"v":2,"k":10,"a":2009.97,"b":2010.49},{"g":93,"v":2,"k":8,"a":2009.99,"b":2010.47},{"g":93,"v":2,"k":7,"a":2010.11,"b":2010.35},{"g":93,"v":2,"k":6.4,"a":2010.23,"b":2010.23},
{"g":94,"v":2,"k":3,"a":2010.11,"b":2010.11},{"g":94,"v":2,"k":2,"a":2009.99,"b":2010.35},{"g":94,"v":2,"k":1,"a":2009.97,"b":2010.47},{"g":94,"v":2,"k":0.25,"a":2010.05,"b":2010.53},
{"g":95,"v":-1,"k":14.3,"a":2010.94,"b":2010.94},{"g":95,"v":-1,"k":13.5,"a":2010.71,"b":2011.18},{"g":95,"v":-1,"k":12,"a":2010.65,"b":2011.24},{"g":95,"v":-1,"k":10,"a":2010.65,"b":2011.26},{"g":95,"v":-1,"k":8,"a":2010.67,"b":2011.24},{"g":95,"v":-1,"k":6,"a":2010.65,"b":2011.18},{"g":95,"v":-1,"k":4,"a":2010.59,"b":2011.12},{"g":95,"v":-1,"k":3,"a":2010.62,"b":2011.12},{"g":95,"v":-1,"k":2,"a":2010.65,"b":2011.18},{"g":95,"v":-1,"k":0.25,"a":2010.59,"b":2011.30},
{"g":96,"v":-2,"k":12.7,"a":2010.91,"b":2010.91},{"g":96,"v":-2,"k":11,"a":2010.74,"b":2011.18},{"g":96,"v":-2,"k":9,"a":2010.73,"b":2011.18},{"g":96,"v":-2,"k":7,"a":2010.79,"b":2011.12},{"g":96,"v":-2,"k":6.2,"a":2010.94,"b":2010.94},
{"g":97,"v":-2,"k":2.4,"a":2010.82,"b":2010.82},{"g":97,"v":-2,"k":1.5,"a":2010.74,"b":2011.06},{"g":97,"v":-2,"k":0.25,"a":2010.68,"b":2011.14},
{"g":98,"v":1,"k":13,"a":2011.42,"b":2011.48},{"g":98,"v":1,"k":5,"a":2011.42,"b":2011.48},
{"g":99,"v":1,"k":3.5,"a":2011.42,"b":2011.48},{"g":99,"v":1,"k":0.25,"a":2011.42,"b":2011.48},
{"g":100,"v":1,"k":2.2,"a":2002.82,"b":2002.82},{"g":100,"v":1,"k":1,"a":2002.72,"b":2003.00},{"g":100,"v":1,"k":0.25,"a":2002.72,"b":2003.00},
{"g":101,"v":-1,"k":1,"a":2003.41,"b":2003.41},{"g":101,"v":-1,"k":0.25,"a":2003.29,"b":2003.55},
{"g":102,"v":1,"k":2.5,"a":2003.83,"b":2003.83},{"g":102,"v":1,"k":1,"a":2003.79,"b":2004.00},{"g":102,"v":1,"k":0.25,"a":2003.86,"b":2004.03},
{"g":103,"v":1,"k":4,"a":2002.84,"b":2002.84},{"g":103,"v":1,"k":3.3,"a":2002.75,"b":2002.97},{"g":103,"v":1,"k":2.7,"a":2002.84,"b":2002.84}
],
"lines":[
{"ch":"Ch.14","t":2002.71,"km":41.99},{"ch":"Ch.14","t":2003.39,"km":41.26},{"ch":"Ch.14","t":2004.04,"km":41.95},{"ch":"Ch.14","t":2004.67,"km":41.31},{"ch":"Ch.14","t":2005.28,"km":41.83},{"ch":"Ch.14","t":2005.88,"km":41.40},{"ch":"Ch.14","t":2006.49,"km":41.78},{"ch":"Ch.14","t":2007.09,"km":41.40},{"ch":"Ch.14","t":2007.66,"km":41.81},{"ch":"Ch.14","t":2008.25,"km":41.31},{"ch":"Ch.14","t":2008.88,"km":41.99},{"ch":"Ch.14","t":2009.53,"km":41.06},{"ch":"Ch.14","t":2010.20,"km":42.24},{"ch":"Ch.14","t":2010.86,"km":40.87},{"ch":"Ch.14","t":2011.54,"km":42.28},
{"ch":"Ch.13","t":2002.71,"km":37.0},{"ch":"Ch.13","t":2003.47,"km":37.36},{"ch":"Ch.13","t":2004.32,"km":36.88},{"ch":"Ch.13","t":2005.01,"km":37.45},{"ch":"Ch.13","t":2005.73,"km":36.79},{"ch":"Ch.13","t":2006.40,"km":37.48},{"ch":"Ch.13","t":2007.09,"km":36.86},{"ch":"Ch.13","t":2007.68,"km":37.31},{"ch":"Ch.13","t":2008.24,"km":36.95},{"ch":"Ch.13","t":2008.84,"km":37.43},{"ch":"Ch.13","t":2009.48,"km":36.65},{"ch":"Ch.13","t":2010.15,"km":37.84},{"ch":"Ch.13","t":2010.85,"km":36.22},{"ch":"Ch.13","t":2011.54,"km":38.05},
{"ch":"Ch.12","t":2002.72,"km":31.1},{"ch":"Ch.12","t":2003.41,"km":32.03},{"ch":"Ch.12","t":2004.10,"km":31.03},{"ch":"Ch.12","t":2004.89,"km":32.03},{"ch":"Ch.12","t":2005.70,"km":30.98},{"ch":"Ch.12","t":2006.40,"km":31.99},{"ch":"Ch.12","t":2007.12,"km":31.1},{"ch":"Ch.12","t":2007.86,"km":31.74},{"ch":"Ch.12","t":2008.33,"km":31.48},{"ch":"Ch.12","t":2008.87,"km":31.5},{"ch":"Ch.12","t":2009.40,"km":31.34},{"ch":"Ch.12","t":2010.15,"km":31.86},{"ch":"Ch.12","t":2010.83,"km":30.91},{"ch":"Ch.12","t":2011.54,"km":32.03},
{"ch":"Ch.11","t":2002.72,"km":24.46},{"ch":"Ch.11","t":2003.43,"km":26.06},{"ch":"Ch.11","t":2004.15,"km":24.5},{"ch":"Ch.11","t":2004.89,"km":25.89},{"ch":"Ch.11","t":2005.67,"km":24.62},{"ch":"Ch.11","t":2006.47,"km":25.77},{"ch":"Ch.11","t":2007.23,"km":24.7},{"ch":"Ch.11","t":2008.04,"km":25.72},{"ch":"Ch.11","t":2008.77,"km":24.75},{"ch":"Ch.11","t":2009.48,"km":25.77},{"ch":"Ch.11","t":2010.17,"km":24.79},{"ch":"Ch.11","t":2010.89,"km":25.65},{"ch":"Ch.11","t":2011.54,"km":24.84},
{"ch":"Ch.10","t":2002.72,"km":19.15},{"ch":"Ch.10","t":2003.43,"km":22.47},{"ch":"Ch.10","t":2004.12,"km":19.51},{"ch":"Ch.10","t":2004.86,"km":21.78},{"ch":"Ch.10","t":2005.60,"km":20.2},{"ch":"Ch.10","t":2006.53,"km":21.16},{"ch":"Ch.10","t":2007.42,"km":20.34},{"ch":"Ch.10","t":2008.16,"km":21.4},{"ch":"Ch.10","t":2008.84,"km":20.09},{"ch":"Ch.10","t":2009.50,"km":21.68},{"ch":"Ch.10","t":2010.17,"km":19.73},{"ch":"Ch.10","t":2010.89,"km":22.06},{"ch":"Ch.10","t":2011.54,"km":19.51},
{"ch":"Ch.9","t":2002.72,"km":15.54},{"ch":"Ch.9","t":2003.46,"km":19.01},{"ch":"Ch.9","t":2004.16,"km":15.97},{"ch":"Ch.9","t":2004.87,"km":18.19},{"ch":"Ch.9","t":2005.67,"km":16.88},{"ch":"Ch.9","t":2006.85,"km":17.65},{"ch":"Ch.9","t":2007.65,"km":16.93},{"ch":"Ch.9","t":2008.22,"km":17.74},{"ch":"Ch.9","t":2008.84,"km":16.86},{"ch":"Ch.9","t":2009.48,"km":18.01},{"ch":"Ch.9","t":2010.15,"km":16.33},{"ch":"Ch.9","t":2010.85,"km":18.55},{"ch":"Ch.9","t":2011.54,"km":15.97},
{"ch":"Ch.8","t":2002.72,"km":13.51},{"ch":"Ch.8","t":2003.49,"km":15.09},{"ch":"Ch.8","t":2004.22,"km":13.73},{"ch":"Ch.8","t":2005.05,"km":14.73},{"ch":"Ch.8","t":2006.05,"km":14.01},{"ch":"Ch.8","t":2006.88,"km":14.61},{"ch":"Ch.8","t":2007.66,"km":14.06},{"ch":"Ch.8","t":2008.87,"km":14.35},{"ch":"Ch.8","t":2009.34,"km":14.37},{"ch":"Ch.8","t":2010.05,"km":13.99},{"ch":"Ch.8","t":2010.80,"km":14.73},{"ch":"Ch.8","t":2011.54,"km":13.78},
{"ch":"Ch.7","t":2002.72,"km":10.55},{"ch":"Ch.7","t":2003.53,"km":11.43},{"ch":"Ch.7","t":2004.38,"km":10.62},{"ch":"Ch.7","t":2005.21,"km":11.31},{"ch":"Ch.7","t":2006.08,"km":10.72},{"ch":"Ch.7","t":2006.91,"km":11.24},{"ch":"Ch.7","t":2007.86,"km":10.77},{"ch":"Ch.7","t":2008.75,"km":11.2},{"ch":"Ch.7","t":2009.64,"km":10.84},{"ch":"Ch.7","t":2010.47,"km":11.15},{"ch":"Ch.7","t":2011.24,"km":10.76},{"ch":"Ch.7","t":2011.54,"km":10.74},
{"ch":"Ch.6","t":2002.72,"km":7.42},{"ch":"Ch.6","t":2003.59,"km":7.92},{"ch":"Ch.6","t":2004.46,"km":7.37},{"ch":"Ch.6","t":2005.28,"km":7.92},{"ch":"Ch.6","t":2006.12,"km":7.42},{"ch":"Ch.6","t":2006.97,"km":7.90},{"ch":"Ch.6","t":2007.90,"km":7.44},{"ch":"Ch.6","t":2008.77,"km":7.87},{"ch":"Ch.6","t":2009.64,"km":7.44},{"ch":"Ch.6","t":2010.35,"km":7.85},{"ch":"Ch.6","t":2011.0,"km":7.49},{"ch":"Ch.6","t":2011.54,"km":7.71},
{"ch":"Ch.5","t":2002.72,"km":3.21},{"ch":"Ch.5","t":2003.89,"km":3.41},{"ch":"Ch.5","t":2004.60,"km":3.0},{"ch":"Ch.5","t":2005.37,"km":3.5},{"ch":"Ch.5","t":2006.14,"km":3.05},{"ch":"Ch.5","t":2006.97,"km":3.43},{"ch":"Ch.5","t":2007.92,"km":3.03},{"ch":"Ch.5","t":2008.77,"km":3.53},{"ch":"Ch.5","t":2009.50,"km":2.95},{"ch":"Ch.5","t":2010.23,"km":3.55},{"ch":"Ch.5","t":2010.94,"km":2.95},{"ch":"Ch.5","t":2011.54,"km":3.41}
],
"channels":[
{"ch":"Ch.14","km":41.59,"top":42.21,"bot":40.95,"mid":41.58,"hi":"0.3","lo":"-0.3","amp":0.171,"ampLo":0.108,"ampHi":0.236,"ph":-6.05,"phLo":-9.77,"phHi":-2.3,"per":1.307,"perLo":1.167,"perHi":1.444},
{"ch":"Ch.13","km":37.15,"top":37.76,"bot":36.52,"mid":37.14,"hi":"0.3","lo":"-0.3","amp":0.193,"ampLo":0.134,"ampHi":0.253,"ph":-7.55,"phLo":-10.77,"phHi":-4.29,"per":1.363,"perLo":1.216,"perHi":1.512},
{"ch":"Ch.12","km":31.5,"top":32.1,"bot":30.86,"mid":31.48,"hi":"0.3","lo":"-0.3","amp":0.178,"ampLo":0.14,"ampHi":0.215,"ph":-7.82,"phLo":-10.23,"phHi":-5.37,"per":1.457,"perLo":1.297,"perHi":1.617},
{"ch":"Ch.11","km":25.27,"top":25.91,"bot":24.62,"mid":25.26,"hi":"0.3","lo":"-0.3","amp":0.234,"ampLo":0.181,"ampHi":0.288,"ph":-7.08,"phLo":-8.09,"phHi":-5.87,"per":1.497,"perLo":1.43,"perHi":1.566},
{"ch":"Ch.10","km":20.82,"top":21.81,"bot":19.8,"mid":20.8,"hi":"0.5","lo":"-0.5","amp":0.385,"ampLo":0.32,"ampHi":0.454,"ph":-7.18,"phLo":-9.5,"phHi":-4.86,"per":1.466,"perLo":1.36,"perHi":1.573},
{"ch":"Ch.9","km":17.29,"top":18.51,"bot":16.09,"mid":17.3,"hi":"0.6","lo":"-0.6","amp":0.376,"ampLo":0.312,"ampHi":0.44,"ph":-6.14,"phLo":-8.39,"phHi":-3.93,"per":1.472,"perLo":1.378,"perHi":1.564},
{"ch":"Ch.8","km":14.3,"top":14.92,"bot":13.68,"mid":14.3,"hi":"0.3","lo":"-0.3","amp":0.165,"ampLo":0.136,"ampHi":0.197,"ph":-3.73,"phLo":-6.34,"phHi":-1.11,"per":1.558,"perLo":1.383,"perHi":1.739},
{"ch":"Ch.7","km":10.98,"top":11.63,"bot":10.38,"mid":11.0,"hi":"0.3","lo":"-0.3","amp":0.11,"ampLo":0.089,"ampHi":0.13,"ph":-0.53,"phLo":-1.67,"phHi":0.67,"per":1.731,"perLo":1.663,"perHi":1.802},
{"ch":"Ch.6","km":7.66,"top":8.28,"bot":7.04,"mid":7.66,"hi":"0.3","lo":"-0.3","amp":0.086,"ampLo":0.068,"ampHi":0.105,"ph":-0.63,"phLo":-1.94,"phHi":0.78,"per":1.665,"perLo":1.602,"perHi":1.733},
{"ch":"Ch.5","km":3.28,"top":3.89,"bot":2.64,"mid":3.27,"hi":"0.3","lo":"-0.3","amp":0.085,"ampLo":0.065,"ampHi":0.106,"ph":0,"phLo":-1.47,"phHi":1.48,"per":1.596,"perLo":1.51,"perHi":1.687}
],
"refs":[{"c":0,"p":1.6,"k0":0.25,"k1":48.78}],
"bar":[{"lo":-1.8,"hi":-1.5,"v":-6,"y0":0,"y1":1},{"lo":-1.5,"hi":-1.2,"v":-5,"y0":0,"y1":1},{"lo":-1.2,"hi":-0.9,"v":-4,"y0":0,"y1":1},{"lo":-0.9,"hi":-0.6,"v":-3,"y0":0,"y1":1},{"lo":-0.6,"hi":-0.35,"v":-2,"y0":0,"y1":1},{"lo":-0.35,"hi":-0.1,"v":-1,"y0":0,"y1":1},{"lo":-0.1,"hi":0.1,"v":0,"y0":0,"y1":1},{"lo":0.1,"hi":0.35,"v":1,"y0":0,"y1":1},{"lo":0.35,"hi":0.6,"v":2,"y0":0,"y1":1},{"lo":0.6,"hi":0.9,"v":3,"y0":0,"y1":1},{"lo":0.9,"hi":1.2,"v":4,"y0":0,"y1":1},{"lo":1.2,"hi":1.5,"v":5,"y0":0,"y1":1},{"lo":1.5,"hi":1.8,"v":6,"y0":0,"y1":1}]
},
"layer":[
{"data":{"name":"pressure"},"mark":{"type":"rule","opacity":0},"encoding":{"y":{"field":"p","type":"quantitative","scale":{"type":"log","domain":[1,1000],"range":[69,746],"nice":false},"axis":{"orient":"right","offset":-933,"labels":false,"values":[1,2,3,4,5,6,7,8,9,10,20,30,40,50,60,70,80,90,100,200,300,400,500,600,700,800,900,1000],"tickSize":{"condition":{"test":"datum.value==1||datum.value==10||datum.value==100||datum.value==1000","value":11},"value":6}}}}},
{"data":{"name":"pressure"},"mark":{"type":"rule","opacity":0},"encoding":{"y":{"field":"p","type":"quantitative","scale":{"type":"log","domain":[1,1000],"range":[69,746],"nice":false},"axis":{"orient":"left","offset":-52,"domain":false,"ticks":false,"labelPadding":9,"labelFontSize":22,"values":[1,10,100,1000],"labelBaseline":{"condition":[{"test":"datum.value==1","value":"top"},{"test":"datum.value==1000","value":"bottom"}],"value":"middle"},"labelExpr":"datum.value==1?'1':datum.value==10?'10':datum.value==100?'10²':'10³'","title":["Pressure","(hPa)"],"titleFontSize":18.7,"titleAngle":0,"titleAlign":"center","titleBaseline":"middle","titleX":-5,"titleY":18,"titleLineHeight":22}}}},
{"data":{"name":"heat"},"mark":{"type":"area","interpolate":"monotone","orient":"horizontal"},"encoding":{"x":{"field":"a","type":"quantitative","scale":{"domain":[2002,2012],"range":[127,408],"nice":false,"zero":false},"axis":{"orient":"bottom","offset":-852,"labels":false,"values":[2002,2003,2004,2005,2006,2007,2008,2009,2010,2011,2012],"tickSize":{"condition":{"test":"datum.value==2004||datum.value==2007||datum.value==2010","value":10},"value":5.5},"title":"Time Series","titleFontSize":20.3,"titleAlign":"left","titleBaseline":"middle","titleX":233,"titleY":-23}},"x2":{"field":"b"},"y":{"field":"k","type":"quantitative","scale":{"domain":[0.25,48.78],"range":[746,69],"nice":false,"zero":false},"axis":{"orient":"right","offset":-881,"labels":false,"values":[2,4,6,8,10,12,14,16,18,20,22,24,26,28,30,32,34,36,38,40,42,44,46,48],"tickSize":{"condition":{"test":"datum.value==10||datum.value==20||datum.value==30||datum.value==40","value":11},"value":6}}},"fill":{"field":"v","type":"nominal","legend":null,"scale":{"domain":[-6,-5,-4,-3,-2,-1,0,1,2,3,4,5,6],"range":["#7f3f02","#a0530a","#b8640e","#cf7b22","#e79b4c","#fcca97","#ffffff","#e09ad8","#c355b3","#b2319f","#ac1f9f","#9f1797","#80107a"]}},"detail":{"field":"g"}}},
{"data":{"name":"lines"},"mark":{"type":"line","interpolate":"monotone","strokeWidth":2},"encoding":{"x":{"field":"t","type":"quantitative","scale":{"domain":[2002,2012],"range":[127,408],"nice":false,"zero":false},"axis":{"orient":"top","offset":-746,"labels":false,"values":[2002,2003,2004,2005,2006,2007,2008,2009,2010,2011,2012],"tickSize":{"condition":{"test":"datum.value==2004||datum.value==2007||datum.value==2010","value":10},"value":5.5},"title":"(a)","titleFontSize":25,"titleFontWeight":"bold","titleAlign":"left","titleBaseline":"middle","titleX":195,"titleY":-700}},"y":{"field":"km","type":"quantitative","scale":{"domain":[0.25,48.78],"range":[746,69],"nice":false,"zero":false},"axis":{"orient":"left","offset":-104,"domain":false,"ticks":false,"labelPadding":9,"labelFontSize":21.5,"values":[10,20,30,40],"title":["Height","(km)"],"titleFontSize":18.7,"titleAngle":0,"titleAlign":"center","titleBaseline":"middle","titleX":21,"titleY":18,"titleLineHeight":22}},"stroke":{"field":"ch","type":"nominal","legend":null,"scale":{"domain":["Ch.14","Ch.13","Ch.12","Ch.11","Ch.10","Ch.9","Ch.8","Ch.7","Ch.6","Ch.5"],"range":["#e0352b","#f58a2b","#c8dd45","#62c04e","#66cc88","#7fdcdc","#3d6fc0","#2f52b0","#4a33a0","#4b0a6c"]}}}},
{"data":{"name":"channels"},"mark":{"type":"text","angle":270,"fontSize":15.6,"color":"#444","align":"center","baseline":"middle"},"encoding":{"x":{"datum":2002.14,"type":"quantitative","scale":{"domain":[2002,2012],"range":[127,408],"nice":false,"zero":false},"axis":{"orient":"bottom","offset":-175,"domain":false,"ticks":false,"labelPadding":13,"format":"d","values":[2004,2007,2010],"title":"Calendar Year","titleFontSize":25.5,"titleAlign":"center","titleBaseline":"middle","titleX":268,"titleY":66}},"y":{"field":"km","type":"quantitative","scale":{"domain":[0.25,48.78],"range":[746,69],"nice":false,"zero":false},"axis":null},"text":{"field":"ch"}}},
{"data":{"name":"channels"},"mark":{"type":"rule","strokeWidth":1.3},"encoding":{"x":{"datum":2012.53,"type":"quantitative","scale":{"domain":[2002,2012],"range":[127,408],"nice":false,"zero":false},"axis":null},"y":{"field":"top","type":"quantitative","scale":{"domain":[0.25,48.78],"range":[746,69],"nice":false,"zero":false},"axis":null},"y2":{"field":"bot"},"stroke":{"field":"ch","type":"nominal","legend":null}}},
{"data":{"name":"channels"},"mark":{"type":"rule","strokeWidth":1.3},"encoding":{"x":{"datum":2012.28,"type":"quantitative","scale":{"domain":[2002,2012],"range":[127,408],"nice":false,"zero":false},"axis":null},"x2":{"datum":2012.53},"y":{"field":"top","type":"quantitative","scale":{"domain":[0.25,48.78],"range":[746,69],"nice":false,"zero":false},"axis":null},"stroke":{"field":"ch","type":"nominal","legend":null}}},
{"data":{"name":"channels"},"mark":{"type":"rule","strokeWidth":1.3},"encoding":{"x":{"datum":2012.28,"type":"quantitative","scale":{"domain":[2002,2012],"range":[127,408],"nice":false,"zero":false},"axis":null},"x2":{"datum":2012.53},"y":{"field":"bot","type":"quantitative","scale":{"domain":[0.25,48.78],"range":[746,69],"nice":false,"zero":false},"axis":null},"stroke":{"field":"ch","type":"nominal","legend":null}}},
{"data":{"name":"channels"},"mark":{"type":"rule","strokeWidth":1.3},"encoding":{"x":{"datum":2012.42,"type":"quantitative","scale":{"domain":[2002,2012],"range":[127,408],"nice":false,"zero":false},"axis":null},"x2":{"datum":2012.53},"y":{"field":"mid","type":"quantitative","scale":{"domain":[0.25,48.78],"range":[746,69],"nice":false,"zero":false},"axis":null},"stroke":{"field":"ch","type":"nominal","legend":null}}},
{"data":{"name":"channels"},"mark":{"type":"text","fontSize":18,"color":"#444","align":"left","baseline":"middle"},"encoding":{"x":{"datum":2012.78,"type":"quantitative","scale":{"domain":[2002,2012],"range":[127,408],"nice":false,"zero":false},"axis":null},"y":{"field":"top","type":"quantitative","scale":{"domain":[0.25,48.78],"range":[746,69],"nice":false,"zero":false},"axis":null},"text":{"field":"hi"}}},
{"data":{"name":"channels"},"mark":{"type":"text","fontSize":18,"color":"#444","align":"left","baseline":"middle"},"encoding":{"x":{"datum":2012.78,"type":"quantitative","scale":{"domain":[2002,2012],"range":[127,408],"nice":false,"zero":false},"axis":null},"y":{"field":"bot","type":"quantitative","scale":{"domain":[0.25,48.78],"range":[746,69],"nice":false,"zero":false},"axis":null},"text":{"field":"lo"}}},
{"data":{"values":[{"t":"T","year":2012.25,"km":45.48},{"t":"T","year":2016.98,"km":-4.53}]},"mark":{"type":"text","font":"Liberation Serif","fontStyle":"italic","fontSize":25,"color":"#333","align":"left","baseline":"middle"},"encoding":{"x":{"field":"year","type":"quantitative","scale":{"domain":[2002,2012],"range":[127,408],"nice":false,"zero":false},"axis":null},"y":{"field":"km","type":"quantitative","scale":{"domain":[0.25,48.78],"range":[746,69],"nice":false,"zero":false},"axis":null},"text":{"field":"t"}}},
{"data":{"values":[{"t":"B","year":2012.71,"km":44.84},{"t":"B","year":2017.55,"km":-5.27}]},"mark":{"type":"text","font":"Liberation Serif","fontStyle":"italic","fontSize":14,"color":"#333","align":"left","baseline":"middle"},"encoding":{"x":{"field":"year","type":"quantitative","scale":{"domain":[2002,2012],"range":[127,408],"nice":false,"zero":false},"axis":null},"y":{"field":"km","type":"quantitative","scale":{"domain":[0.25,48.78],"range":[746,69],"nice":false,"zero":false},"axis":null},"text":{"field":"t"}}},
{"data":{"values":[{"t":"(K)","year":2013.02,"km":45.48}]},"mark":{"type":"text","fontSize":20,"color":"#333","align":"left","baseline":"middle"},"encoding":{"x":{"field":"year","type":"quantitative","scale":{"domain":[2002,2012],"range":[127,408],"nice":false,"zero":false},"axis":null},"y":{"field":"km","type":"quantitative","scale":{"domain":[0.25,48.78],"range":[746,69],"nice":false,"zero":false},"axis":null},"text":{"field":"t"}}},
{"data":{"values":[{"t":"(K)","year":2017.98,"km":-4.53}]},"mark":{"type":"text","fontSize":25,"color":"#333","align":"left","baseline":"middle"},"encoding":{"x":{"field":"year","type":"quantitative","scale":{"domain":[2002,2012],"range":[127,408],"nice":false,"zero":false},"axis":null},"y":{"field":"km","type":"quantitative","scale":{"domain":[0.25,48.78],"range":[746,69],"nice":false,"zero":false},"axis":null},"text":{"field":"t"}}},
{"data":{"values":[{"t":"NCEP","year":1998.52,"km":-11.36},{"t":"(K; 160°E − 270°E; Filtered 14 − 22 months)","year":2001.75,"km":-11.36}]},"mark":{"type":"text","fontSize":20,"color":"#333","align":"left","baseline":"middle"},"encoding":{"x":{"field":"year","type":"quantitative","scale":{"domain":[2002,2012],"range":[127,408],"nice":false,"zero":false},"axis":null},"y":{"field":"km","type":"quantitative","scale":{"domain":[0.25,48.78],"range":[746,69],"nice":false,"zero":false},"axis":null},"text":{"field":"t"}}},
{"data":{"values":[{"t":"T","year":2000.71,"km":-11.36}]},"mark":{"type":"text","font":"Liberation Serif","fontStyle":"italic","fontSize":21,"color":"#333","align":"left","baseline":"middle"},"encoding":{"x":{"field":"year","type":"quantitative","scale":{"domain":[2002,2012],"range":[127,408],"nice":false,"zero":false},"axis":null},"y":{"field":"km","type":"quantitative","scale":{"domain":[0.25,48.78],"range":[746,69],"nice":false,"zero":false},"axis":null},"text":{"field":"t"}}},
{"data":{"values":[{"t":"air","year":2001.18,"km":-11.9}]},"mark":{"type":"text","fontSize":13,"color":"#333","align":"left","baseline":"middle"},"encoding":{"x":{"field":"year","type":"quantitative","scale":{"domain":[2002,2012],"range":[127,408],"nice":false,"zero":false},"axis":null},"y":{"field":"km","type":"quantitative","scale":{"domain":[0.25,48.78],"range":[746,69],"nice":false,"zero":false},"axis":null},"text":{"field":"t"}}},

{"data":{"name":"channels"},"mark":{"type":"rule","color":"#1c1c1c","strokeWidth":2},"encoding":{"x":{"field":"ampLo","type":"quantitative","scale":{"domain":[0,0.5],"range":[493,662],"nice":false,"zero":false},"axis":{"orient":"bottom","offset":-852,"labels":false,"values":[0.1,0.2,0.3,0.4],"tickSize":{"condition":{"test":"datum.value==0.2||datum.value==0.4","value":10.5},"value":6},"title":"Amplitudes","titleFontSize":21,"titleAlign":"left","titleBaseline":"middle","titleX":541.5,"titleY":-23}},"x2":{"field":"ampHi"},"y":{"field":"km","type":"quantitative","scale":{"domain":[0.25,48.78],"range":[746,69],"nice":false,"zero":false},"axis":{"orient":"right","offset":-492,"labels":false,"values":[2,4,6,8,10,12,14,16,18,20,22,24,26,28,30,32,34,36,38,40,42,44,46,48],"tickSize":{"condition":{"test":"datum.value==10||datum.value==20||datum.value==30||datum.value==40","value":7},"value":3.5}}}}},
{"data":{"name":"channels"},"mark":{"type":"tick","orient":"vertical","size":15,"thickness":2,"color":"#1c1c1c"},"encoding":{"x":{"field":"ampLo","type":"quantitative","scale":{"domain":[0,0.5],"range":[493,662],"nice":false,"zero":false},"axis":{"orient":"top","offset":-746,"labels":false,"values":[0.1,0.2,0.3,0.4],"tickSize":{"condition":{"test":"datum.value==0.2||datum.value==0.4","value":10.5},"value":6},"title":"(b)","titleFontSize":25,"titleFontWeight":"bold","titleAlign":"left","titleBaseline":"middle","titleX":500,"titleY":-700}},"y":{"field":"km","type":"quantitative","scale":{"domain":[0.25,48.78],"range":[746,69],"nice":false,"zero":false},"axis":{"orient":"left","offset":-662,"labels":false,"values":[2,4,6,8,10,12,14,16,18,20,22,24,26,28,30,32,34,36,38,40,42,44,46,48],"tickSize":{"condition":{"test":"datum.value==10||datum.value==20||datum.value==30||datum.value==40","value":7},"value":3.5}}}}},
{"data":{"name":"channels"},"mark":{"type":"tick","orient":"vertical","size":15,"thickness":2,"color":"#1c1c1c"},"encoding":{"x":{"field":"ampHi","type":"quantitative","scale":{"domain":[0,0.5],"range":[493,662],"nice":false,"zero":false},"axis":{"orient":"bottom","offset":-175,"domain":false,"ticks":false,"labelPadding":13,"format":".1f","values":[0,0.2,0.4]}},"y":{"field":"km","type":"quantitative","scale":{"domain":[0.25,48.78],"range":[746,69],"nice":false,"zero":false},"axis":null}}},
{"data":{"name":"channels"},"mark":{"type":"point","shape":"circle","filled":true,"size":85,"opacity":1,"color":"#ac1e9e"},"encoding":{"x":{"field":"amp","type":"quantitative","scale":{"domain":[0,0.5],"range":[493,662],"nice":false,"zero":false},"axis":null},"y":{"field":"km","type":"quantitative","scale":{"domain":[0.25,48.78],"range":[746,69],"nice":false,"zero":false},"axis":null}}},

{"data":{"name":"refs"},"mark":{"type":"rule","color":"#888","strokeWidth":1.3,"strokeDash":[8,6]},"encoding":{"x":{"field":"c","type":"quantitative","scale":{"domain":[-13,3],"range":[671,830.3],"nice":false,"zero":false},"axis":null},"y":{"field":"k0","type":"quantitative","scale":{"domain":[0.25,48.78],"range":[746,69],"nice":false,"zero":false},"axis":null},"y2":{"field":"k1"}}},
{"data":{"name":"channels"},"mark":{"type":"rule","color":"#1c1c1c","strokeWidth":2},"encoding":{"x":{"field":"phLo","type":"quantitative","scale":{"domain":[-13,3],"range":[671,830.3],"nice":false,"zero":false},"axis":{"orient":"bottom","offset":-852,"labels":false,"values":[-12,-9,-6,-3,0],"tickSize":{"condition":{"test":"datum.value==-12||datum.value==-6||datum.value==0","value":10.5},"value":6},"title":"Phase diff","titleFontSize":20.3,"titleAlign":"left","titleBaseline":"middle","titleX":721.3,"titleY":-23}},"x2":{"field":"phHi"},"y":{"field":"km","type":"quantitative","scale":{"domain":[0.25,48.78],"range":[746,69],"nice":false,"zero":false},"axis":{"orient":"right","offset":-314,"labels":false,"values":[2,4,6,8,10,12,14,16,18,20,22,24,26,28,30,32,34,36,38,40,42,44,46,48],"tickSize":{"condition":{"test":"datum.value==10||datum.value==20||datum.value==30||datum.value==40","value":7},"value":3.5}}}}},
{"data":{"name":"channels"},"mark":{"type":"tick","orient":"vertical","size":15,"thickness":2,"color":"#1c1c1c"},"encoding":{"x":{"field":"phLo","type":"quantitative","scale":{"domain":[-13,3],"range":[671,830.3],"nice":false,"zero":false},"axis":{"orient":"top","offset":-746,"labels":false,"values":[-12,-9,-6,-3,0],"tickSize":{"condition":{"test":"datum.value==-12||datum.value==-6||datum.value==0","value":10.5},"value":6},"title":"(c)","titleFontSize":25,"titleFontWeight":"bold","titleAlign":"left","titleBaseline":"middle","titleX":681.7,"titleY":-700}},"y":{"field":"km","type":"quantitative","scale":{"domain":[0.25,48.78],"range":[746,69],"nice":false,"zero":false},"axis":{"orient":"left","offset":-830.3,"labels":false,"values":[2,4,6,8,10,12,14,16,18,20,22,24,26,28,30,32,34,36,38,40,42,44,46,48],"tickSize":{"condition":{"test":"datum.value==10||datum.value==20||datum.value==30||datum.value==40","value":7},"value":3.5}}}}},
{"data":{"name":"channels"},"mark":{"type":"tick","orient":"vertical","size":15,"thickness":2,"color":"#1c1c1c"},"encoding":{"x":{"field":"phHi","type":"quantitative","scale":{"domain":[-13,3],"range":[671,830.3],"nice":false,"zero":false},"axis":{"orient":"bottom","offset":-175,"domain":false,"ticks":false,"labelPadding":13,"labelExpr":"datum.value==-12?'-12':datum.value==-6?'-6':'0'","values":[-12,-6,0],"title":"Month","titleFontSize":25.5,"titleAlign":"center","titleBaseline":"middle","titleX":751,"titleY":66}},"y":{"field":"km","type":"quantitative","scale":{"domain":[0.25,48.78],"range":[746,69],"nice":false,"zero":false},"axis":null}}},
{"data":{"name":"channels"},"mark":{"type":"point","shape":"triangle-up","filled":true,"size":210,"opacity":1,"color":"#ac1e9e"},"encoding":{"x":{"field":"ph","type":"quantitative","scale":{"domain":[-13,3],"range":[671,830.3],"nice":false,"zero":false},"axis":null},"y":{"field":"km","type":"quantitative","scale":{"domain":[0.25,48.78],"range":[746,69],"nice":false,"zero":false},"axis":null}}},

{"data":{"name":"refs"},"mark":{"type":"rule","color":"#888","strokeWidth":1.3,"strokeDash":[8,6]},"encoding":{"x":{"field":"p","type":"quantitative","scale":{"domain":[1,2],"range":[839.7,971],"nice":false,"zero":false},"axis":null},"y":{"field":"k0","type":"quantitative","scale":{"domain":[0.25,48.78],"range":[746,69],"nice":false,"zero":false},"axis":null},"y2":{"field":"k1"}}},
{"data":{"name":"channels"},"mark":{"type":"rule","color":"#1c1c1c","strokeWidth":2},"encoding":{"x":{"field":"perLo","type":"quantitative","scale":{"domain":[1,2],"range":[839.7,971],"nice":false,"zero":false},"axis":{"orient":"bottom","offset":-852,"labels":false,"values":[1.2,1.4,1.6,1.8],"tickSize":{"condition":{"test":"datum.value==1.2||datum.value==1.6","value":10.5},"value":6},"title":"Period","titleFontSize":20.3,"titleAlign":"left","titleBaseline":"middle","titleX":892.3,"titleY":-23}},"x2":{"field":"perHi"},"y":{"field":"km","type":"quantitative","scale":{"domain":[0.25,48.78],"range":[746,69],"nice":false,"zero":false},"axis":{"orient":"right","offset":-145.3,"labels":false,"values":[2,4,6,8,10,12,14,16,18,20,22,24,26,28,30,32,34,36,38,40,42,44,46,48],"tickSize":{"condition":{"test":"datum.value==10||datum.value==20||datum.value==30||datum.value==40","value":7},"value":3.5}}}}},
{"data":{"name":"channels"},"mark":{"type":"tick","orient":"vertical","size":15,"thickness":2,"color":"#1c1c1c"},"encoding":{"x":{"field":"perLo","type":"quantitative","scale":{"domain":[1,2],"range":[839.7,971],"nice":false,"zero":false},"axis":{"orient":"top","offset":-746,"labels":false,"values":[1.2,1.4,1.6,1.8],"tickSize":{"condition":{"test":"datum.value==1.2||datum.value==1.6","value":10.5},"value":6},"title":"(d)","titleFontSize":25,"titleFontWeight":"bold","titleAlign":"left","titleBaseline":"middle","titleX":851.7,"titleY":-700}},"y":{"field":"km","type":"quantitative","scale":{"domain":[0.25,48.78],"range":[746,69],"nice":false,"zero":false},"axis":{"orient":"left","offset":-971,"labels":false,"values":[2,4,6,8,10,12,14,16,18,20,22,24,26,28,30,32,34,36,38,40,42,44,46,48],"tickSize":{"condition":{"test":"datum.value==10||datum.value==20||datum.value==30||datum.value==40","value":7},"value":3.5}}}}},
{"data":{"name":"channels"},"mark":{"type":"tick","orient":"vertical","size":15,"thickness":2,"color":"#1c1c1c"},"encoding":{"x":{"field":"perHi","type":"quantitative","scale":{"domain":[1,2],"range":[839.7,971],"nice":false,"zero":false},"axis":{"orient":"bottom","offset":-175,"domain":false,"ticks":false,"labelPadding":13,"format":".1f","values":[1.2,1.6,2.0],"title":"Year","titleFontSize":25.5,"titleAlign":"center","titleBaseline":"middle","titleX":906,"titleY":66}},"y":{"field":"km","type":"quantitative","scale":{"domain":[0.25,48.78],"range":[746,69],"nice":false,"zero":false},"axis":null}}},
{"data":{"name":"channels"},"mark":{"type":"point","shape":"triangle-down","filled":true,"size":210,"opacity":1,"color":"#ac1e9e"},"encoding":{"x":{"field":"per","type":"quantitative","scale":{"domain":[1,2],"range":[839.7,971],"nice":false,"zero":false},"axis":null},"y":{"field":"km","type":"quantitative","scale":{"domain":[0.25,48.78],"range":[746,69],"nice":false,"zero":false},"axis":null}}},

{"data":{"name":"bar"},"mark":{"type":"rect"},"encoding":{"x":{"field":"lo","type":"quantitative","scale":{"domain":[-1.8,-1.5,-1.2,-0.9,-0.6,-0.35,-0.1,0.1,0.35,0.6,0.9,1.2,1.5,1.8],"range":[71,98.9,126.7,154.6,182.4,210.3,238.1,293.9,321.7,349.6,377.4,405.3,433.1,461],"nice":false,"zero":false},"axis":{"orient":"bottom","offset":-78,"labels":false,"values":[-1.8,-1.2,-0.6,-0.1,0.1,0.6,1.2,1.8],"tickSize":4,"tickColor":"#111"}},"x2":{"field":"hi"},"y":{"field":"y0","type":"quantitative","scale":{"domain":[0,1],"range":[859,843],"nice":false,"zero":false},"axis":{"orient":"left","offset":-71,"labels":false,"ticks":false,"values":[0,1]}},"y2":{"field":"y1"},"fill":{"field":"v","type":"nominal","legend":null}}},
{"data":{"name":"bar"},"mark":{"type":"rect","opacity":0},"encoding":{"x":{"field":"lo","type":"quantitative","scale":{"domain":[-1.8,-1.5,-1.2,-0.9,-0.6,-0.35,-0.1,0.1,0.35,0.6,0.9,1.2,1.5,1.8],"range":[71,98.9,126.7,154.6,182.4,210.3,238.1,293.9,321.7,349.6,377.4,405.3,433.1,461],"nice":false,"zero":false},"axis":{"orient":"bottom","offset":-62,"ticks":false,"labelPadding":8,"labelFontSize":19.2,"values":[-1.8,-1.2,-0.6,-0.1,0.1,0.6,1.2,1.8],"labelExpr":"replace(format(datum.value,'.1f'),'-','−')"}},"x2":{"field":"hi"},"y":{"field":"y0","type":"quantitative","scale":{"domain":[0,1],"range":[859,843],"nice":false,"zero":false},"axis":{"orient":"left","offset":-461,"labels":false,"ticks":false,"values":[0,1]}},"y2":{"field":"y1"}}},
{"data":{"name":"bar"},"mark":{"type":"rect","opacity":0},"encoding":{"x":{"field":"lo","type":"quantitative","scale":{"domain":[-1.8,-1.5,-1.2,-0.9,-0.6,-0.35,-0.1,0.1,0.35,0.6,0.9,1.2,1.5,1.8],"range":[71,98.9,126.7,154.6,182.4,210.3,238.1,293.9,321.7,349.6,377.4,405.3,433.1,461],"nice":false,"zero":false},"axis":{"orient":"top","offset":-859,"labels":false,"domain":false,"values":[-1.8,-1.2,-0.6,-0.1,0.1,0.6,1.2,1.8],"tickSize":4,"tickColor":"#111"}},"x2":{"field":"hi"},"y":{"field":"y0","type":"quantitative","scale":{"domain":[0,1],"range":[859,843],"nice":false,"zero":false},"axis":null},"y2":{"field":"y1"}}}
]}
